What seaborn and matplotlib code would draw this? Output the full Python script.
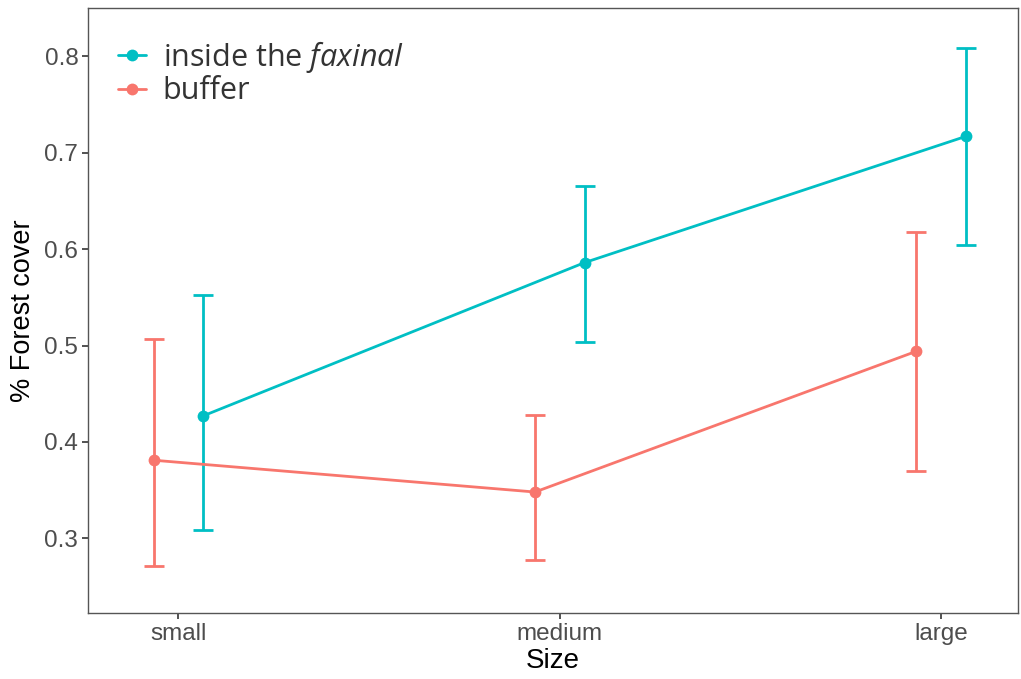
import matplotlib
matplotlib.use("Agg")
import matplotlib.pyplot as plt
import seaborn as sns
import pandas as pd
import numpy as np

sizes = ["small", "medium", "large"]
groups = ["inside the faxinal", "buffer"]
inside_mean = [0.427, 0.586, 0.717]
inside_low = [0.309, 0.504, 0.604]
inside_high = [0.552, 0.665, 0.809]
buffer_mean = [0.381, 0.348, 0.494]
buffer_low = [0.271, 0.277, 0.370]
buffer_high = [0.507, 0.428, 0.618]
yticks = [0.3, 0.4, 0.5, 0.6, 0.7, 0.8]

colors = {"inside the faxinal": "#00BFC4", "buffer": "#F8766D"}
dodge = {"inside the faxinal": 0.065, "buffer": -0.065}

rows = []
for g, m, lo, hi in [(groups[0], inside_mean, inside_low, inside_high),
                     (groups[1], buffer_mean, buffer_low, buffer_high)]:
    for i, s in enumerate(sizes):
        rows.append(dict(group=g, size=s, code=i, mean=m[i], low=lo[i], high=hi[i]))
df = pd.DataFrame(rows)
df["x"] = df["code"] + df["group"].map(dodge)

sns.set_style("white")
plt.rcParams["mathtext.fontset"] = "custom"
plt.rcParams["mathtext.it"] = "Open Sans:italic"
plt.rcParams["mathtext.rm"] = "Open Sans"
fig = plt.figure(figsize=(10.21, 6.79), dpi=100)
ax = fig.add_axes([0.0862, 0.0965, 0.911, 0.8915])

for g in groups:
    d = df[df["group"] == g]
    ax.errorbar(d["x"], d["mean"], yerr=[d["mean"] - d["low"], d["high"] - d["mean"]],
                fmt="none", ecolor=colors[g], elinewidth=2.0, capsize=7, capthick=2.0, zorder=2)

sns.lineplot(data=df, x="x", y="mean", hue="group", hue_order=groups, palette=colors,
             marker="o", markersize=8.5, markeredgewidth=0, linewidth=2.0, ax=ax,
             sort=True, estimator=None, zorder=3)

ax.set_xlim(-0.237, 2.202)
ax.set_ylim(0.222, 0.85)
ax.set_xticks(range(len(sizes)))
ax.set_xticklabels(sizes)
ax.set_yticks(yticks)
ax.set_yticklabels([f"{v:.1f}" for v in yticks])
for lab in ax.get_xticklabels() + ax.get_yticklabels():
    lab.set_fontfamily("Liberation Sans")
    lab.set_fontsize(17.5)
    lab.set_color("#4D4D4D")
ax.tick_params(axis="both", which="both", direction="out", length=4, width=1.2,
               color="#333333", bottom=True, left=True, pad=3)
ax.set_xlabel("Size", fontfamily="Liberation Sans", fontsize=20, color="black", labelpad=2)
ax.set_ylabel("% Forest cover", fontfamily="Liberation Sans", fontsize=19.5, color="black", labelpad=6)
for sp in ax.spines.values():
    sp.set_color("#555555")
    sp.set_linewidth(1.0)
ax.grid(False)

handles, labels = ax.get_legend_handles_labels()
new_labels = ["inside the $\\it{faxinal}$" if l == "inside the faxinal" else l for l in labels]
leg = ax.legend(handles, new_labels, loc="upper left", bbox_to_anchor=(0.003, 0.995),
                frameon=False, handlelength=0.9, handletextpad=0.55, labelspacing=0.05,
                prop=dict(family="Open Sans", size=22))
for t in leg.get_texts():
    t.set_color("#333333")

fig.savefig("out.png", dpi=100)
